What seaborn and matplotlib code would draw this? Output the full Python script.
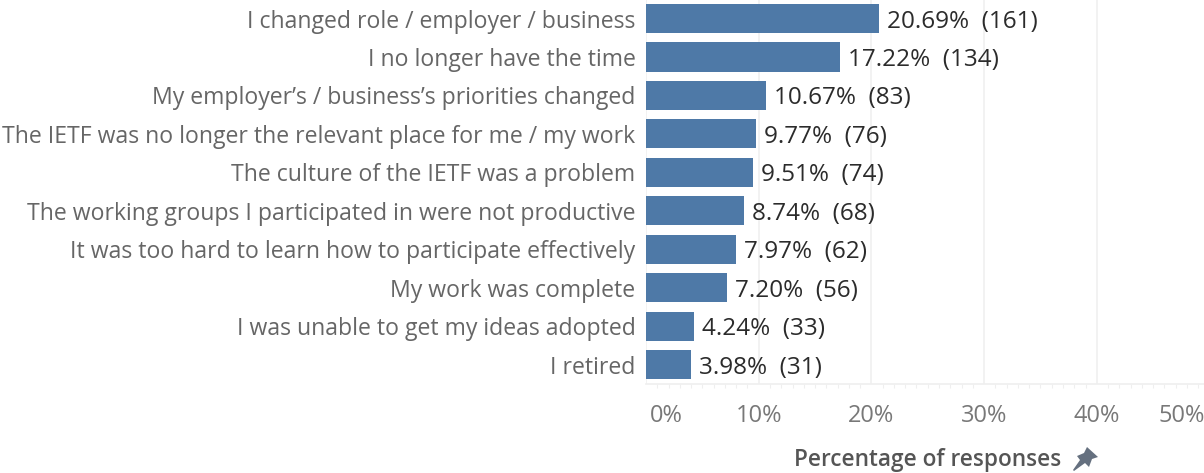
import matplotlib
matplotlib.use("Agg")
import matplotlib.pyplot as plt
import seaborn as sns
import pandas as pd
from matplotlib.patches import Polygon
from matplotlib.ticker import MultipleLocator
from matplotlib.transforms import ScaledTranslation

reasons = [
    "I changed role / employer / business",
    "I no longer have the time",
    "My employer\u2019s / business\u2019s priorities changed",
    "The IETF was no longer the relevant place for me / my work",
    "The culture of the IETF was a problem",
    "The working groups I participated in were not productive",
    "It was too hard to learn how to participate effectively",
    "My work was complete",
    "I was unable to get my ideas adopted",
    "I retired",
]
percentages = [20.69, 17.22, 10.67, 9.77, 9.51, 8.74, 7.97, 7.20, 4.24, 3.98]
counts = [161, 134, 83, 76, 74, 68, 62, 56, 33, 31]
x_ticks = [0, 10, 20, 30, 40, 50]

W, H = 1204, 473
sns.set_theme(style="white")
plt.rcParams["font.family"] = ["Open Sans", "DejaVu Sans"]

fig = plt.figure(figsize=(W / 100, H / 100), dpi=100)
left, right, top, bottom = 646.0, 1209.5, -0.7, 383.8
ax = fig.add_axes([left / W, 1 - bottom / H, (right - left) / W, (bottom - top) / H])

df = pd.DataFrame({"reason": reasons, "pct": percentages})
sns.barplot(data=df, y="reason", x="pct", color="#4e79a7", saturation=1,
            width=0.76, linewidth=0, ax=ax, zorder=3)
ax.set_xlim(0, 50)
ax.set_ylim(len(reasons) - 0.5, -0.5)

ax.set_xticks(x_ticks)
ax.set_xticklabels([f"{t}%" for t in x_ticks])
ax.xaxis.set_minor_locator(MultipleLocator(1))
ax.grid(axis="x", which="major", color="#f0f0f0", lw=1.2, zorder=0)
ax.set_axisbelow(True)
ax.tick_params(axis="x", which="major", length=7, width=1, color="#ececec",
               labelsize=17, labelcolor="#787878", pad=7.5)
ax.tick_params(axis="x", which="minor", length=3, width=0.8, color="#efefef", bottom=True)
ax.tick_params(axis="y", length=0, labelsize=16.6, labelcolor="#666666", pad=7.5)

labs = ax.get_xticklabels()
labs[0].set_ha("left")
labs[0].set_transform(labs[0].get_transform() + ScaledTranslation(4 / 100, 0, fig.dpi_scale_trans))
labs[-1].set_ha("right")
labs[-1].set_transform(labs[-1].get_transform() + ScaledTranslation(-5 / 100, 0, fig.dpi_scale_trans))

for s in ["top", "right", "left"]:
    ax.spines[s].set_visible(False)
ax.spines["bottom"].set_color("#efefef")
ax.spines["bottom"].set_linewidth(1.2)
ax.set_ylabel("")
ax.set_xlabel("")

for i, (p, c) in enumerate(zip(percentages, counts)):
    ax.annotate(f"{p:.2f}%  ({c})", (p, i), xytext=(8, 0), textcoords="offset pixels",
                va="center_baseline", ha="left", fontsize=17.5, color="#2b2b2b", zorder=5)

fig.text(1061 / W, 1 - 460 / H, "Percentage of responses", ha="right", va="center",
         fontsize=16.3, color="#555555", fontweight="semibold", family=["Open Sans", "DejaVu Sans"])

# pin icon beside the axis title
pin = [(1087, 447), (1098, 457), (1092, 459), (1089, 467), (1085, 463), (1074, 471),
       (1073, 470), (1080, 460), (1077, 456), (1084, 453)]
fig.add_artist(Polygon([(x / W, 1 - y / H) for x, y in pin], closed=True,
                       transform=fig.transFigure, facecolor="#65707f", edgecolor="none"))

fig.savefig("out.png", dpi=100, facecolor="white")
